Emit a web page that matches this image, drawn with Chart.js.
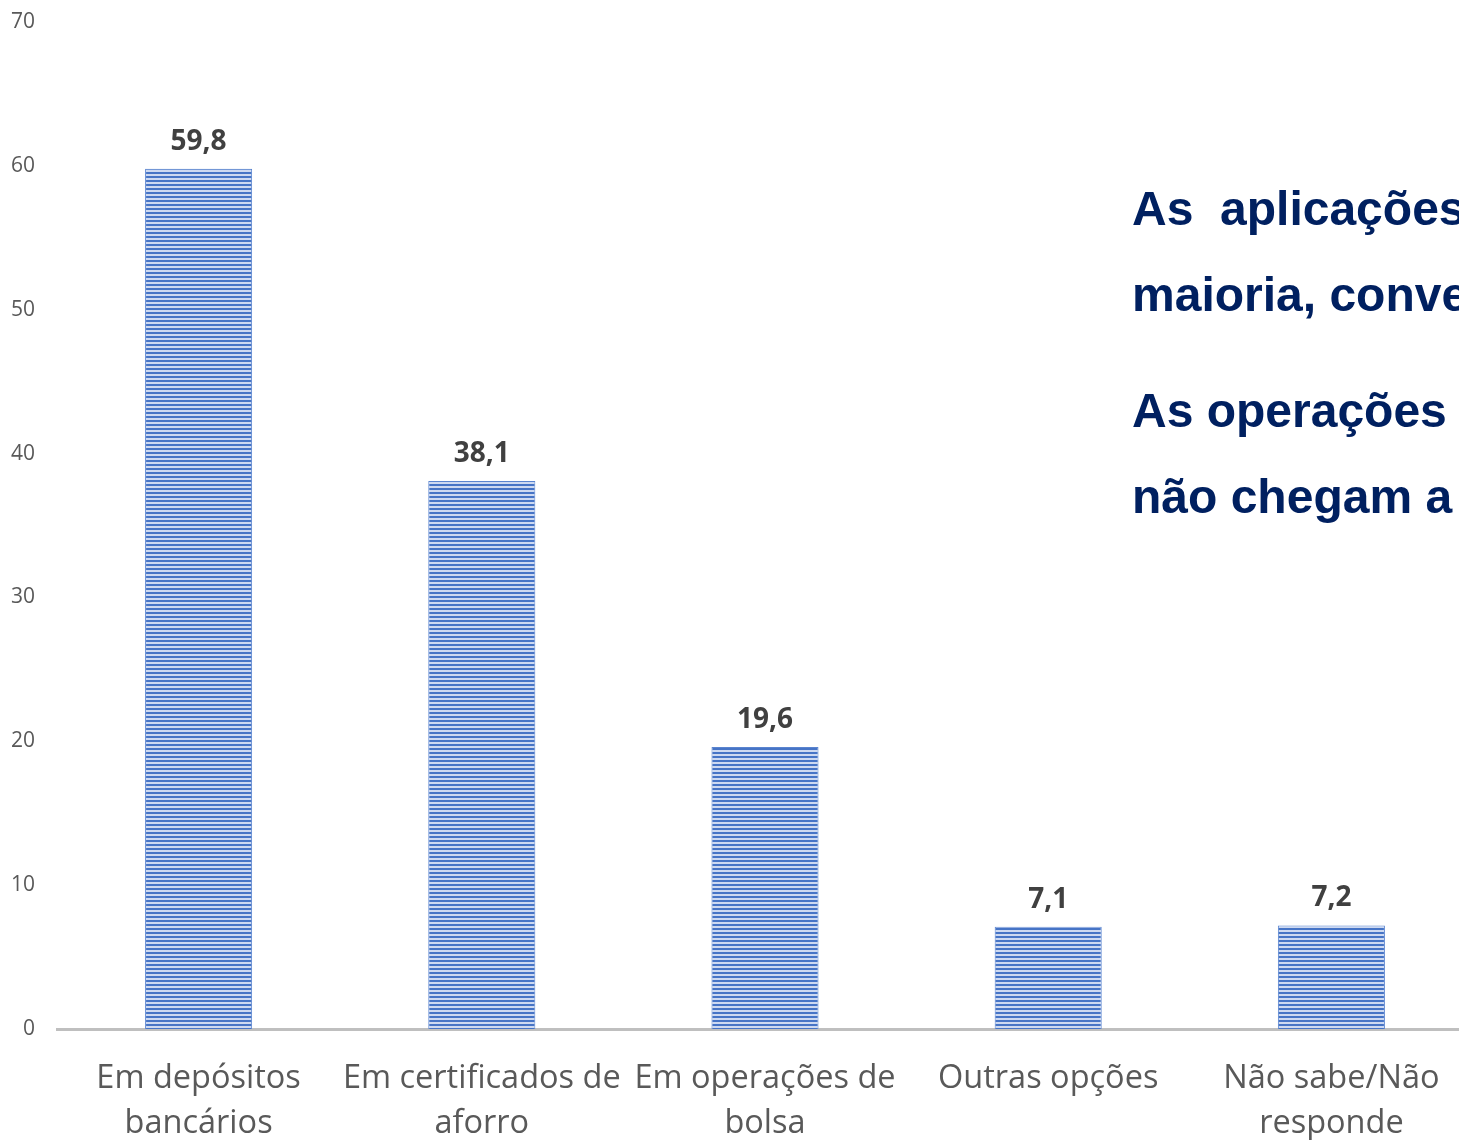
<!DOCTYPE html>
<html>
<head>
<meta charset="utf-8">
<script src="https://cdn.jsdelivr.net/npm/chart.js@4.4.0/dist/chart.umd.min.js"></script>
<style>
  html, body { margin: 0; padding: 0; background: #fff; overflow: hidden; }
  #wrap { width: 1459px; height: 1140px; overflow: hidden; position: relative; }
  #chart { display: block; }
</style>
</head>
<body>
<div id="wrap"><canvas id="chart" width="1473" height="1140"></canvas></div>
<script>
// dados
var categorias = [
    ['Em depósitos', 'bancários'],
    ['Em certificados de', 'aforro'],
    ['Em operações de', 'bolsa'],
    ['Outras opções'],
    ['Não sabe/Não', 'responde']
];
var valores = [59.8, 38.1, 19.6, 7.1, 7.2];
var yTicks = [0, 10, 20, 30, 40, 50, 60, 70];
var textoLinhas = [
    'As  aplicações financeiras são, na sua',
    'maioria, convencionais.',
    'As operações de bolsa',
    'não chegam a 20%.'
];

// padrão de riscas horizontais
function makeStripes() {
    var c = document.createElement('canvas');
    c.width = 4; c.height = 4;
    var g = c.getContext('2d');
    g.fillStyle = '#cdd9f1';
    g.fillRect(0, 0, 4, 4);
    g.fillStyle = '#4674c6';
    g.fillRect(0, 0, 4, 2);
    return g.createPattern(c, 'repeat');
}

// rótulos de valor por cima das barras
var valueLabels = {
    id: 'valueLabels',
    afterDatasetsDraw: function(chart) {
        var ctx = chart.ctx;
        var meta = chart.getDatasetMeta(0);
        ctx.save();
        ctx.font = 'bold 28px "Open Sans"';
        ctx.fillStyle = '#404040';
        ctx.textAlign = 'center';
        ctx.textBaseline = 'alphabetic';
        meta.data.forEach(function(bar, i) {
            ctx.fillText(String(valores[i]).replace('.', ','), bar.x, bar.y - 19);
        });
        ctx.restore();
    }
};

// texto à direita
var sideText = {
    id: 'sideText',
    afterDraw: function(chart) {
        var ctx = chart.ctx;
        var baselines = [225, 311, 427, 513];
        ctx.save();
        ctx.font = 'bold 48px "Liberation Sans", Arial, sans-serif';
        ctx.fillStyle = '#002060';
        ctx.textAlign = 'left';
        ctx.textBaseline = 'alphabetic';
        textoLinhas.forEach(function(t, i) {
            ctx.fillText(t, 1132, baselines[i]);
        });
        ctx.restore();
    }
};

var ctx = document.getElementById('chart').getContext('2d');
var chart = new Chart(ctx, {
    type: 'bar',
    data: {
        labels: categorias,
        datasets: [{
            data: valores,
            backgroundColor: makeStripes(),
            borderColor: '#5a84cf',
            borderWidth: 1,
            barPercentage: 0.378,
            categoryPercentage: 1
        }]
    },
    options: {
        responsive: false,
        animation: false,
        devicePixelRatio: 1,
        layout: { padding: { top: 22, left: 0, right: 0, bottom: 0 } },
        plugins: {
            legend: { display: false },
            tooltip: { enabled: false }
        },
        scales: {
            x: {
                grid: { display: false, drawTicks: false },
                border: { display: true, color: '#bfbfbf', width: 3 },
                ticks: {
                    color: '#595959',
                    padding: 28,
                    maxRotation: 0,
                    autoSkip: false,
                    font: { family: '"Open Sans"', size: 32.5, lineHeight: 1.36 }
                },
                afterFit: function(s) { s.height = 111; }
            },
            y: {
                min: 0,
                max: 70,
                afterBuildTicks: function(s) {
                    s.ticks = yTicks.map(function(v) { return { value: v }; });
                },
                grid: { display: false, drawTicks: false },
                border: { display: false },
                ticks: {
                    color: '#595959',
                    padding: 22,
                    font: { family: '"Open Sans"', size: 21 }
                },
                afterFit: function(s) {
                    s.width = 57;
                    s.paddingTop = 0;
                    s.paddingBottom = 0;
                }
            }
        }
    },
    plugins: [valueLabels, sideText]
});
</script>
</body>
</html>
